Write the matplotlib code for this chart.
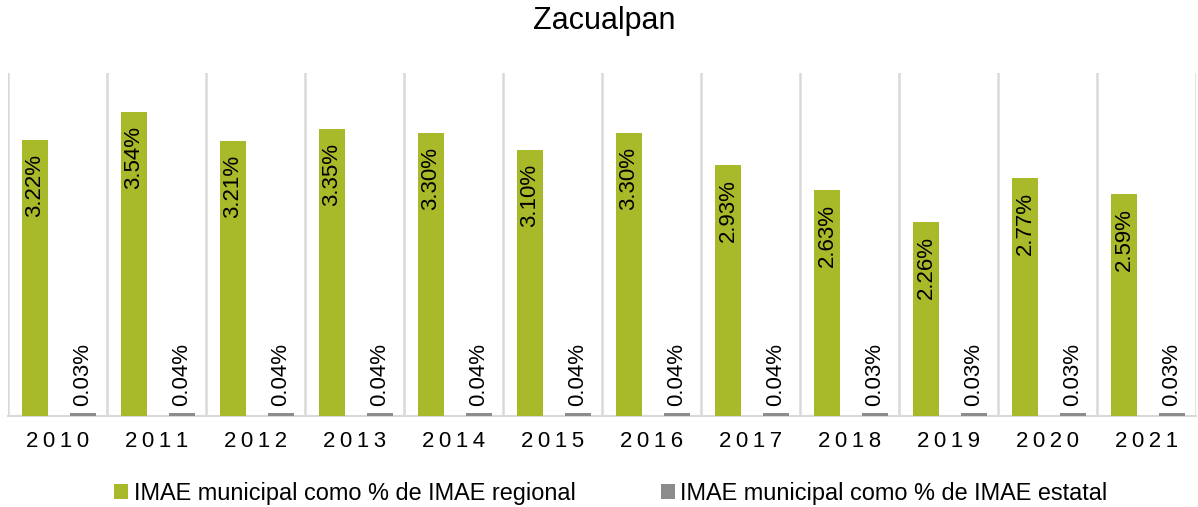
import matplotlib
matplotlib.use("Agg")
import matplotlib.pyplot as plt
import numpy as np

years = ["2010", "2011", "2012", "2013", "2014", "2015", "2016", "2017", "2018", "2019", "2020", "2021"]
regional = [3.22, 3.54, 3.21, 3.35, 3.30, 3.10, 3.30, 2.93, 2.63, 2.26, 2.77, 2.59]
estatal = [0.03, 0.04, 0.04, 0.04, 0.04, 0.04, 0.04, 0.04, 0.03, 0.03, 0.03, 0.03]
title = "Zacualpan"
label_regional = "IMAE municipal como % de IMAE regional"
label_estatal = "IMAE municipal como % de IMAE estatal"

plt.rcParams['font.family'] = ['Liberation Sans', 'DejaVu Sans']

green = "#A8B92A"
gray = "#8C8C8C"

fig = plt.figure(figsize=(11.98, 5.07), dpi=100)
ax = fig.add_axes([0.0067, 0.1795, 0.9916, 0.6765])

x = np.arange(len(years))
w = 0.263
b1 = ax.bar(x - 0.227, regional, width=w, color=green, label=label_regional, zorder=3)
b2 = ax.bar(x + 0.258, estatal, width=w, color=gray, label=label_estatal, zorder=3)

ax.set_xlim(-0.5, len(years) - 0.5)
ax.set_ylim(0, 4.0)

for xi, v in zip(x, regional):
    ax.annotate(f"{v:.2f}%", (xi - 0.227, v), xytext=(0, -10), textcoords="offset points",
                rotation=90, ha="center", va="top", fontsize=16, color="black", zorder=4)
for xi, v in zip(x, estatal):
    ax.annotate(f"{v:.2f}%", (xi + 0.258, v), xytext=(0, 5), textcoords="offset points",
                rotation=90, ha="center", va="bottom", fontsize=16, color="black", zorder=4)

ax.set_xticks(x)
ax.set_xticklabels(["\u2009".join(y) for y in years], fontsize=16)
ax.tick_params(axis="x", length=0, pad=11)
ax.set_yticks([])
ax.set_xticks(np.arange(-0.5, len(years), 1.0), minor=True)
ax.tick_params(axis="x", which="minor", length=0)
ax.grid(axis="x", which="minor", color="#D9D9D9", linewidth=1.8, zorder=0)
for s in ["top", "left", "right"]:
    ax.spines[s].set_visible(False)
ax.spines["bottom"].set_color("#D9D9D9")
ax.spines["bottom"].set_linewidth(1.5)

fig.text(0.504, 0.958, title, ha="center", va="center", fontsize=22)

fig.legend(handles=[b1, b2], loc="center", bbox_to_anchor=(0.51, 0.027), ncol=2,
           frameon=False, fontsize=16.9, handlelength=0.6, handleheight=0.6,
           handletextpad=0.25, columnspacing=3.6)

fig.savefig("out.png", dpi=100)
